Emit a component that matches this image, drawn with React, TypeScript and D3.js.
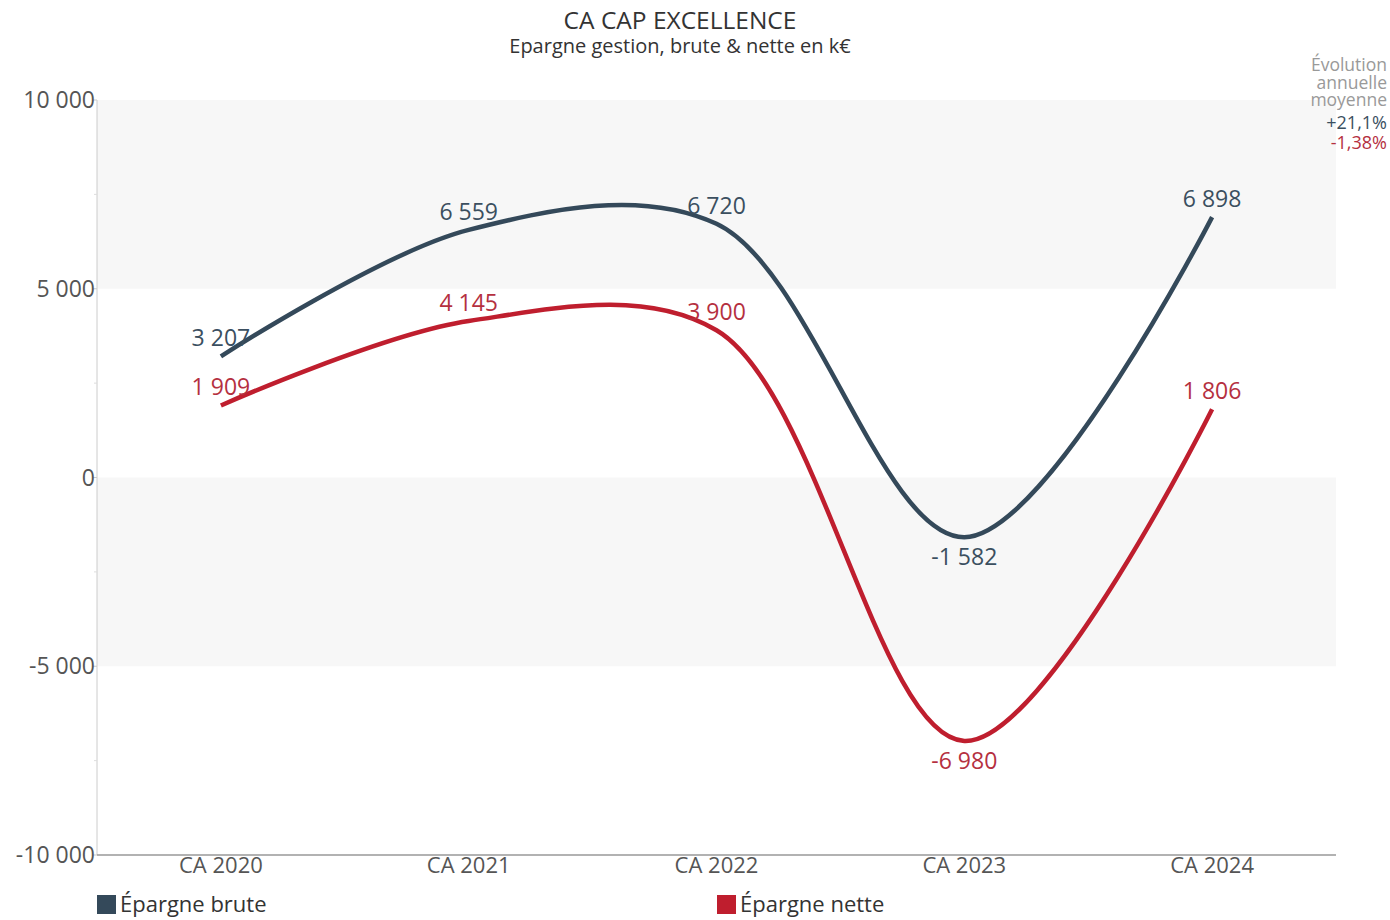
import React from "react";
import * as d3 from "d3";

const categories = ["CA 2020", "CA 2021", "CA 2022", "CA 2023", "CA 2024"];
const brute = [3207, 6559, 6720, -1582, 6898];
const nette = [1909, 4145, 3900, -6980, 1806];
const yTicks = [-10000, -5000, 0, 5000, 10000];
const minorTicks = [-7500, -2500, 2500, 7500];
const bands = [[5000, 10000], [-5000, 0]];
const seriesNames = ["Épargne brute", "Épargne nette"];
const evolution = ["+21,1%", "-1,38%"];

const W = 1390, H = 920;
const left = 97, right = 1336, top = 100, bottom = 855;
const FONT = "'Open Sans', 'Noto Sans', sans-serif";
const COLORS = ["#34495a", "#bf1e2e"];
const LABEL_COLORS = ["#3b4f5f", "#b5303f"];

const loc = d3.formatLocale({ decimal: ",", thousands: " ", grouping: [3], currency: ["", "€"], minus: "-" });
const fmt = loc.format(",d");

export default function App() {
  const x = d3.scalePoint<string>().domain(categories).range([left, right]).padding(0.5);
  const y = d3.scaleLinear().domain([-10000, 10000]).range([bottom, top]);
  const line = d3
    .line<number>()
    .x((_, i) => x(categories[i]) as number)
    .y((v) => y(v))
    .curve(d3.curveCatmullRom.alpha(0.5));
  const series = [brute, nette];

  return (
    <svg width={W} height={H} style={{ position: "absolute", left: 0, top: 0, background: "#fff" }} fontFamily={FONT}>
      {bands.map(([a, b], i) => (
        <rect key={i} x={left} width={right - left} y={y(b)} height={y(a) - y(b)} fill="#f7f7f7" />
      ))}
      {/* y axis */}
      <line x1={left} x2={left} y1={top} y2={bottom} stroke="#ccc" strokeWidth={1} />
      {yTicks.map((t) => (
        <g key={t}>
          <line x1={left - 4} x2={left} y1={y(t)} y2={y(t)} stroke="#ccc" />
          <text x={left - 2} y={y(t)} dy="0.35em" textAnchor="end" fontSize={23} fill="#555">
            {fmt(t)}
          </text>
        </g>
      ))}
      {minorTicks.map((t) => (
        <line key={t} x1={left - 3} x2={left} y1={y(t)} y2={y(t)} stroke="#ddd" />
      ))}
      {/* x axis */}
      <line x1={left} x2={right} y1={bottom} y2={bottom} stroke="#999" strokeWidth={1.5} />
      {categories.map((c) => (
        <text key={c} x={x(c)} y={bottom + 2} dy="0.71em" textAnchor="middle" fontSize={22} fill="#555">
          {c}
        </text>
      ))}
      {/* lines */}
      {series.map((s, si) => (
        <path key={si} d={line(s) || ""} fill="none" stroke={COLORS[si]} strokeWidth={4.5} strokeLinejoin="round" />
      ))}
      {/* data labels */}
      {series.map((s, si) =>
        s.map((v, i) => (
          <text
            key={si + "-" + i}
            x={x(categories[i])}
            y={v >= 0 ? y(v) - 10 : y(v) + 10}
            dy={v >= 0 ? "0" : "0.78em"}
            textAnchor="middle"
            fontSize={23}
            fill={LABEL_COLORS[si]}
          >
            {fmt(v)}
          </text>
        ))
      )}
      {/* title */}
      <text x={680} y={29} textAnchor="middle" fontSize={24.5} fill="#333">
        CA CAP EXCELLENCE
      </text>
      <text x={680} y={53} textAnchor="middle" fontSize={20} fill="#333">
        Epargne gestion, brute &amp; nette en k€
      </text>
      {/* evolution annotation */}
      <g textAnchor="end" fontSize={17.5}>
        <text x={1387} y={71} fill="#999">Évolution</text>
        <text x={1387} y={89} fill="#999">annuelle</text>
        <text x={1387} y={106} fill="#999">moyenne</text>
        <text x={1387} y={129} fontSize={18} fill={LABEL_COLORS[0]}>{evolution[0]}</text>
        <text x={1387} y={149} fontSize={18} fill={LABEL_COLORS[1]}>{evolution[1]}</text>
      </g>
      {/* legend */}
      {seriesNames.map((n, i) => {
        const lx = i === 0 ? 97 : 717;
        return (
          <g key={n}>
            <rect x={lx} y={895} width={19} height={19} fill={COLORS[i]} />
            <text x={lx + 23} y={912} fontSize={22} fill="#333">
              {n}
            </text>
          </g>
        );
      })}
    </svg>
  );
}
